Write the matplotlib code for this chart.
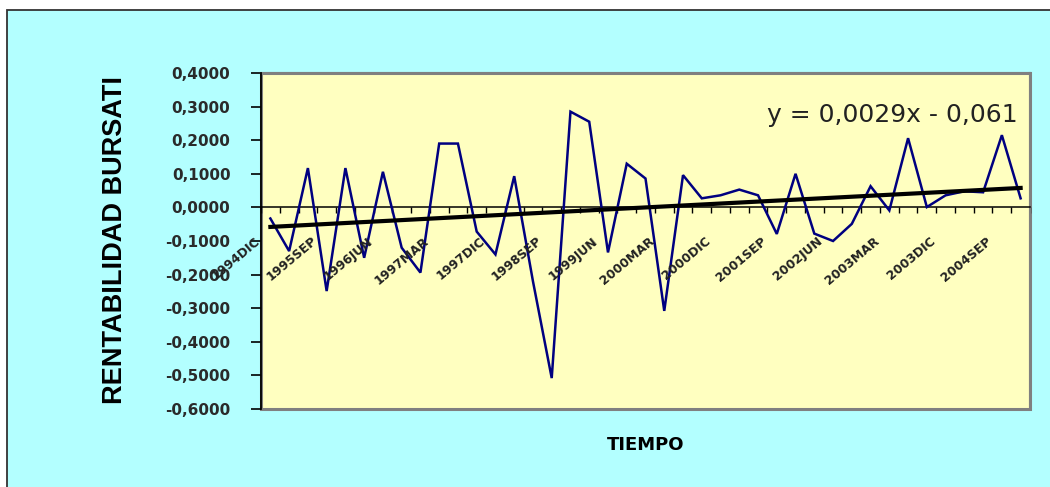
import numpy as np
import matplotlib
matplotlib.use("Agg")
import matplotlib.pyplot as plt
from matplotlib.patches import Rectangle

# ---- data (quarterly returns) ----
rentabilidad = [-0.033, -0.130, 0.117, -0.249, 0.117, -0.150, 0.106, -0.120,
                -0.194, 0.190, 0.190, -0.072, -0.140, 0.093, -0.220, -0.508,
                0.285, 0.255, -0.134, 0.130, 0.086, -0.308, 0.096, 0.027,
                0.036, 0.053, 0.036, -0.079, 0.100, -0.078, -0.100, -0.049,
                0.063, -0.009, 0.206, 0.001, 0.036, 0.048, 0.045, 0.215, 0.027]

# labels shown every 3rd quarter
x_labels = ["1994DIC", "1995SEP", "1996JUN", "1997MAR", "1997DIC", "1998SEP",
            "1999JUN", "2000MAR", "2000DIC", "2001SEP", "2002JUN", "2003MAR",
            "2003DIC", "2004SEP"]
label_step = 3

y_ticks = [-0.6, -0.5, -0.4, -0.3, -0.2, -0.1, 0.0, 0.1, 0.2, 0.3, 0.4]
y_tick_labels = ["-0,6000", "-0,5000", "-0,4000", "-0,3000", "-0,2000", "-0,1000",
                 "0,0000", "0,1000", "0,2000", "0,3000", "0,4000"]

# linear trend shown on the chart
slope = 0.0029
intercept = -0.061
eq_text = "y = 0,0029x - 0,061"

N = len(rentabilidad)
x = np.arange(1, N + 1)

fig = plt.figure(figsize=(10.5, 4.87), dpi=100, facecolor="white")

# outer chart area (cyan with dark frame, left/top visible)
fig.add_artist(Rectangle((7 / 1050, -0.05), 1.1, 1.0295, transform=fig.transFigure,
                         facecolor="#B3FFFF", edgecolor="#333333", lw=1.3, zorder=0))

ax = fig.add_axes([261 / 1050, 78 / 487, 769 / 1050, 336 / 487])
ax.set_facecolor("#FFFFC0")

ax.plot(x, rentabilidad, color="#000080", lw=1.8, zorder=3, solid_joinstyle="miter")
ax.plot(x, slope * x + intercept, color="black", lw=3, zorder=4)

ax.set_xlim(0.5, N + 0.5)
ax.set_ylim(-0.6, 0.4)

# plot area frame with shadow-ish grey right/bottom
for s in ["top", "right"]:
    ax.spines[s].set_color("#808080")
    ax.spines[s].set_linewidth(1.5)
ax.add_patch(Rectangle((0, 0), 1, 1, transform=ax.transAxes, fill=False,
                       edgecolor="#808080", lw=2.2, zorder=1, clip_on=False))
ax.spines["left"].set_color("black")
ax.spines["left"].set_linewidth(1.3)
ax.spines["left"].set_zorder(5)

# category axis crosses at zero
ax.spines["bottom"].set_position(("data", 0))
ax.spines["bottom"].set_color("black")
ax.spines["bottom"].set_linewidth(1.1)

ax.set_yticks(y_ticks, labels=y_tick_labels, fontweight="bold", fontsize=11,
              color="#2a2a2a", family="DejaVu Sans")
ax.tick_params(axis="y", direction="out", length=7, width=1.2, pad=15)

ax.set_xticks(np.arange(0.5, N + 1, 1))
ax.set_xticklabels([])
ax.tick_params(axis="x", direction="out", length=4, width=1)

for k, lbl in enumerate(x_labels):
    ax.annotate(lbl, (1 + k * label_step, 0), xytext=(-8.5, -23),
                textcoords="offset points", rotation=40, rotation_mode="anchor",
                ha="right", va="center", fontsize=9, fontweight="bold",
                color="#222222", family="DejaVu Sans", zorder=6)

ax.text(0.984, 0.854, eq_text, transform=ax.transAxes, ha="right",
        va="baseline", fontsize=18, family="DejaVu Sans", color="#222222", zorder=6)

fig.text(0.110, 0.507, "RENTABILIDAD BURSATI", rotation=90, fontsize=19.5,
         fontweight="bold", family="Liberation Sans", ha="center", va="center")
fig.text(0.615, 0.086, "TIEMPO", fontsize=13, fontweight="bold",
         family="DejaVu Sans", ha="center", va="center")

fig.savefig("out.png", dpi=100)
